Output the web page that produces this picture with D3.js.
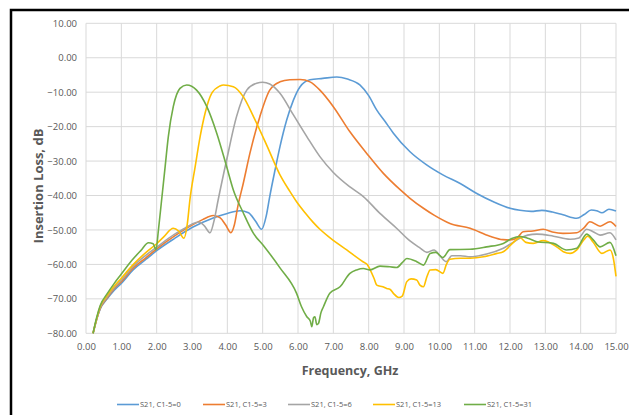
<!DOCTYPE html>
<html><head><meta charset="utf-8">
<script src="https://cdn.jsdelivr.net/npm/d3@7"></script>
<style>body{margin:0;background:#fff;}svg{display:block;font-family:"Open Sans","DejaVu Sans",sans-serif;}</style>
</head><body>
<svg id="c" width="629" height="415"></svg>
<script>
const seriesNames = ["S21, C1-5=0","S21, C1-5=3","S21, C1-5=6","S21, C1-5=13","S21, C1-5=31"];
const seriesColors = ["#5B9BD5","#ED7D31","#A5A5A5","#FFC000","#70AD47"];
const xTicks = [0,1,2,3,4,5,6,7,8,9,10,11,12,13,14,15];
const yTicks = [10,0,-10,-20,-30,-40,-50,-60,-70,-80];

const freqBlue = [0.2,0.3,0.4,0.6,0.8,1.0,1.34,1.7,2.0,2.5,3.0,3.6,4.0,4.36,4.6,4.8,4.97,5.1,5.2,5.35,5.49,5.68,5.87,6.06,6.34,6.7,7.1,7.4,7.75,8.0,8.23,8.5,8.7,9.17,9.64,10.1,10.59,11.06,11.53,12.0,12.28,12.6,12.9,13.2,13.5,13.89,14.1,14.3,14.45,14.6,14.8,15.0];
const dbBlue = [-80,-76,-73,-70,-67.5,-65.5,-61.5,-58.5,-56,-52.5,-49.3,-46.5,-45.2,-44.4,-45,-47.5,-49.8,-46,-40.3,-32.6,-25.8,-18.1,-12.3,-8.4,-6.4,-6,-5.6,-6.2,-7.9,-11,-15.2,-19,-21.9,-27.3,-31.1,-34,-36.5,-39.4,-41.8,-43.7,-44.3,-44.6,-44.3,-44.8,-45.6,-46.6,-45.5,-44.2,-44.4,-45,-44,-44.5];

const freqOrange = [0.2,0.3,0.4,0.6,0.8,1.0,1.34,1.7,2.0,2.5,3.0,3.3,3.6,3.8,3.95,4.1,4.2,4.3,4.45,4.64,4.92,5.2,5.49,5.77,6.06,6.34,6.62,7.0,7.47,7.94,8.41,8.89,9.17,9.55,9.85,10.3,10.87,11.43,11.8,12.0,12.2,12.37,12.65,12.94,13.2,13.5,13.89,14.1,14.26,14.55,14.83,15.0];
const dbOrange = [-80,-76,-72.8,-69.7,-67,-65,-61,-58,-55.5,-51.8,-48.6,-47,-45.8,-46.5,-48.5,-50.8,-48.5,-43,-36.5,-27.7,-17.1,-9.4,-7,-6.4,-6.3,-7,-9.4,-14.2,-21.5,-27.7,-33.5,-38.3,-40.8,-43.7,-45.7,-48.1,-49.5,-51.8,-52.8,-52.9,-52.3,-50.5,-50.3,-49.8,-50.6,-51,-50.8,-49.3,-47.6,-48.9,-47.6,-49];

const freqGrey = [0.2,0.3,0.4,0.6,0.8,1.0,1.34,1.7,2.0,2.5,2.8,3.0,3.2,3.35,3.51,3.62,3.74,3.98,4.26,4.55,4.83,5.0,5.2,5.49,5.87,6.25,6.62,7.0,7.47,7.85,8.32,8.79,9.17,9.45,9.65,9.85,10.02,10.2,10.35,10.6,10.87,11.34,11.81,12.28,12.5,12.76,13.23,13.7,13.95,14.17,14.35,14.55,14.83,15.0];
const dbGrey = [-80,-76,-72.6,-69.4,-66.7,-64.6,-60.5,-57.3,-55,-51.3,-49.5,-48.3,-47.7,-48.8,-50.8,-47.5,-41.3,-29.7,-17.1,-9.4,-7.4,-7.1,-7.6,-10.3,-16.6,-22.9,-28.7,-33.3,-37.5,-40.3,-45.2,-49.5,-53.2,-55.2,-56.5,-55.8,-57.5,-59.2,-57.5,-57.5,-57.8,-57,-55.3,-52.4,-51.5,-51.2,-51.8,-52.7,-52.3,-49.8,-50.5,-51.5,-50.8,-52.9];

const freqYellow = [0.2,0.3,0.4,0.6,0.8,1.0,1.34,1.7,2.0,2.2,2.47,2.62,2.77,2.87,2.94,3.09,3.23,3.37,3.56,3.79,3.89,4.17,4.45,4.74,5.11,5.49,5.77,5.96,6.2,6.43,6.62,6.9,7.38,7.85,7.96,8.04,8.15,8.23,8.4,8.51,8.6,8.7,8.85,8.95,9.08,9.2,9.36,9.45,9.55,9.65,9.74,9.9,10.1,10.2,10.3,10.6,10.87,11.25,11.63,11.81,12.1,12.28,12.45,12.66,12.94,13.32,13.51,13.7,13.89,14.08,14.2,14.35,14.6,14.83,14.93,15.0];
const dbYellow = [-80,-75.8,-72.3,-69,-66.3,-64,-60,-56.5,-54,-52,-49.5,-50.3,-52.4,-48,-41.3,-31.6,-22.9,-16.1,-10.3,-8.2,-7.9,-8.4,-11.3,-17.1,-25.3,-34,-38.8,-41.8,-45,-47.8,-49.8,-52.2,-55.8,-59.3,-60,-61.5,-64,-66,-66.5,-67,-67.2,-68.4,-69.6,-69.2,-65,-64.2,-64.5,-66,-66.5,-63.5,-61.6,-61.5,-62.6,-60,-58.5,-58.2,-58.2,-57.8,-56.8,-56.3,-53.6,-52.2,-53.6,-53.9,-53.1,-54.9,-56.3,-56.8,-55.8,-53,-51.8,-53.5,-56.8,-55.8,-58.5,-63.5];

const freqGreen = [0.2,0.3,0.4,0.6,0.8,1.0,1.3,1.55,1.77,1.9,1.98,2.05,2.14,2.24,2.33,2.47,2.66,2.85,3.13,3.42,3.7,3.98,4.17,4.45,4.74,5.02,5.49,5.96,6.1,6.25,6.35,6.39,6.44,6.48,6.53,6.58,6.65,6.72,6.9,7.19,7.47,7.66,7.85,8.04,8.32,8.6,8.79,8.95,9.08,9.36,9.55,9.74,9.9,10.1,10.3,10.87,11.34,11.81,12.05,12.28,12.5,12.76,13.23,13.6,13.89,14.17,14.35,14.55,14.83,15.0];
const dbGreen = [-80,-75.5,-72,-68.5,-65.5,-62.8,-58.8,-56,-53.7,-54,-55.8,-50,-41.3,-31.6,-22.9,-14.2,-8.9,-7.9,-9.4,-14.2,-21.9,-31.6,-38.4,-45,-51,-54.5,-61,-68.4,-72.3,-75.2,-76.5,-78.1,-75.5,-75.2,-77.5,-77.1,-74,-72.3,-68.4,-66.5,-62.6,-61.6,-61.2,-61.6,-60.5,-60.7,-60.9,-59.5,-58.3,-59.2,-60.2,-56.8,-56.5,-58,-55.7,-55.6,-54.9,-53.9,-52.5,-51.9,-52.4,-53.4,-53.9,-55.8,-55.3,-51.2,-52.8,-54.9,-53.6,-57.5];

const seriesData = [[freqBlue,dbBlue],[freqOrange,dbOrange],[freqGrey,dbGrey],[freqYellow,dbYellow],[freqGreen,dbGreen]];

const svg = d3.select("#c");
// outer border
svg.append("rect").attr("x",11).attr("y",10).attr("width",700).attr("height",500)
  .attr("fill","none").attr("stroke","#000").attr("stroke-width",2.5);

const x = d3.scaleLinear().domain([0,15]).range([86,616]);
const y = d3.scaleLinear().domain([-80,10]).range([333.3,23.3]);

// grid
svg.append("g").selectAll("line").data(xTicks).join("line")
  .attr("x1",d=>x(d)).attr("x2",d=>x(d)).attr("y1",y(10)).attr("y2",y(-80))
  .attr("stroke","#d9d9d9").attr("stroke-width",1);
svg.append("g").selectAll("line").data(yTicks).join("line")
  .attr("x1",x(0)).attr("x2",x(15)).attr("y1",d=>y(d)).attr("y2",d=>y(d))
  .attr("stroke","#d9d9d9").attr("stroke-width",1);

// axes (labels only)
const xAxis = d3.axisBottom(x).tickValues(xTicks).tickFormat(d3.format(".2f")).tickSize(0).tickPadding(10);
const gx = svg.append("g").attr("transform",`translate(0,${y(-80)})`).call(xAxis);
gx.select(".domain").remove();
gx.selectAll("text").attr("fill","#595959").attr("font-size",9.5).attr("font-family","Open Sans, sans-serif");

const yAxis = d3.axisLeft(y).tickValues(yTicks).tickFormat(d3.format(".2f")).tickSize(0).tickPadding(9);
const gy = svg.append("g").attr("transform",`translate(${x(0)},0)`).call(yAxis);
gy.select(".domain").remove();
gy.selectAll("text").attr("fill","#595959").attr("font-size",9.5).attr("font-family","Open Sans, sans-serif");

// series lines
const line = d3.line().x(d=>x(d[0])).y(d=>y(d[1])).curve(d3.curveMonotoneX);
seriesData.forEach((s,i)=>{
  const pts = s[0].map((f,j)=>[f,s[1][j]]);
  svg.append("path").datum(pts).attr("d",line).attr("fill","none")
    .attr("stroke",seriesColors[i]).attr("stroke-width",1.6).attr("stroke-linejoin","round");
});

// titles
svg.append("text").attr("x",350).attr("y",375).attr("text-anchor","middle")
  .attr("font-size",12.5).attr("font-weight","bold").attr("fill","#595959").text("Frequency, GHz");
svg.append("text").attr("transform","translate(43,186) rotate(-90)").attr("text-anchor","middle")
  .attr("font-size",13).attr("font-weight","bold").attr("fill","#595959").text("Insertion Loss, dB");

// legend
const legendX = [117,203,288,373,464];
const lg = svg.append("g");
seriesNames.forEach((n,i)=>{
  lg.append("line").attr("x1",legendX[i]).attr("x2",legendX[i]+22).attr("y1",404.5).attr("y2",404.5)
    .attr("stroke",seriesColors[i]).attr("stroke-width",1.6);
  lg.append("text").attr("x",legendX[i]+23).attr("y",407).attr("font-size",7.5).attr("fill","#595959").text(n);
});
</script>
</body></html>
